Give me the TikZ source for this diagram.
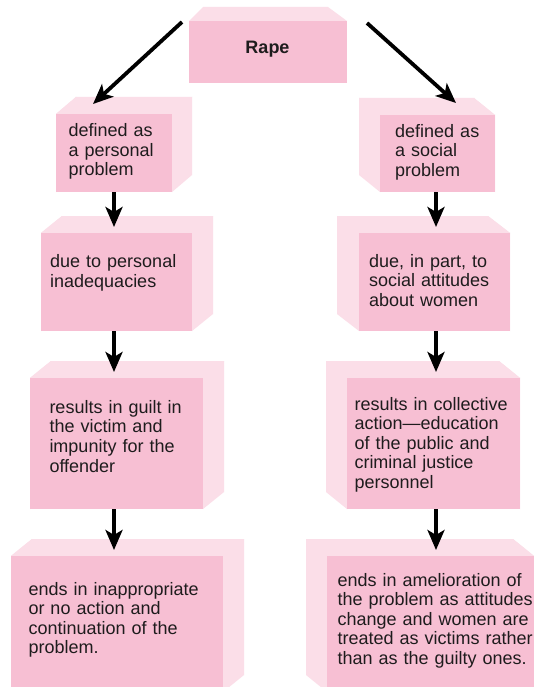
\documentclass[tikz,border=0pt]{standalone}
\usepackage{fontspec}
\setmainfont{Liberation Sans}
\usetikzlibrary{arrows.meta,calc,backgrounds}
\definecolor{frontpink}{RGB}{247,191,211}
\definecolor{sidepink}{RGB}{251,222,232}
\definecolor{txt}{RGB}{30,28,29}
\tikzset{
  frontface/.style={fill=frontpink, draw=none, inner sep=0pt, outer sep=0pt, anchor=north west},
  sideface/.style={fill=sidepink},
  arr/.style={line width=3.8pt, -{Stealth[length=20pt, width=17pt, inset=5pt]}, draw=black},
  tx/.style={anchor=base west, text width=220pt, align=left, inner sep=0pt,
             font=\fontsize{18}{19.6}\selectfont, text=txt},
}
\newcommand{\cubebox}[6]{%
  \node[frontface, minimum width=#4pt, minimum height=#5pt] (#1) at (#2,#3) {};
  \begin{scope}[on background layer]
    \fill[sideface] ($(#1.south west)+(#6,-17)$) rectangle ($(#1.north east)+(#6,-17)$);
    \fill[sideface] (#1.north west) -- ++(#6,-17) -- ($(#1.north east)+(#6,-17)$) -- (#1.north east) -- cycle;
    \fill[sideface] (#1.north west) -- ++(#6,-17) -- ($(#1.south west)+(#6,-17)$) -- (#1.south west) -- cycle;
    \fill[sideface] (#1.north east) -- ++(#6,-17) -- ($(#1.south east)+(#6,-17)$) -- (#1.south east) -- cycle;
  \end{scope}}
\begin{document}
\begin{tikzpicture}[x=1pt,y=-1pt]
\useasboundingbox (0,0) rectangle (533,687);
\begin{scope}[on background layer]
  \fill[white] (0,0) rectangle (533,687);
\end{scope}

% title box
\node[frontface, minimum width=158pt, minimum height=62pt] (rape) at (189,21) {};
\begin{scope}[on background layer]
  \fill[sideface] (rape.north west) -- ++(14,-14) -- ($(rape.north east)+(-19,-14)$) -- (rape.north east) -- cycle;
\end{scope}
\node[anchor=base, inner sep=0pt, font=\bfseries\fontsize{18}{20}\selectfont, text=txt] (rapet) at (267.5,53.3) {Rape};

% left column
\cubebox{l1}{56}{114}{116}{78}{20}
\cubebox{l2}{41}{233}{151}{98}{21}
\cubebox{l3}{30}{378}{173}{131}{21}
\cubebox{l4}{11}{556}{212}{136}{21}

% right column
\cubebox{r1}{380}{115}{115}{77}{-21}
\cubebox{r2}{359}{233}{151}{98}{-22}
\cubebox{r3}{347}{378}{173}{131}{-21}
\cubebox{r4}{327}{556}{207}{136}{-21}

% texts
\node[tx] (l1t) at (68.3,136.7) {defined as\\a personal\\problem};
\node[tx] (l2t) at (50,267.7) {due to personal\\inadequacies};
\node[tx] (l3t) at (49.3,413.3) {results in guilt in\\the victim and\\impunity for the\\offender};
\node[tx] (l4t) at (28.3,595) {ends in inappropriate\\or no action and\\continuation of the\\problem.};
\node[tx] (r1t) at (395,137.3) {defined as\\a social\\problem};
\node[tx] (r2t) at (369,267.3) {due, in part, to\\social attitudes\\about women};
\node[tx] (r3t) at (354.3,410) {results in collective\\action—education\\of the public and\\criminal justice\\personnel};
\node[tx] (r4t) at (337.3,586) {ends in amelioration of\\the problem as attitudes\\change and women are\\treated as victims rather\\than as the guilty ones.};

% arrows
\draw[arr] ($(rape.north west)+(-7,1)$) -- ($(l1.north west)+(37,-10)$);
\draw[arr] ($(rape.north east)+(20,2)$) -- ($(r1.north west)+(76,-12)$);

\draw[arr] (l1.south) -- ($(l1.south |- l2.north)+(0,-6)$);
\draw[arr] (l1.south |- l2.south) -- ($(l1.south |- l3.north)+(0,-6)$);
\draw[arr] (l1.south |- l3.south) -- ($(l1.south |- l4.north)+(0,-6)$);

\coordinate (rx) at ($(r1.south)+(-1.5,0)$);
\draw[arr] (rx) -- ($(rx |- r2.north)+(0,-6)$);
\draw[arr] (rx |- r2.south) -- ($(rx |- r3.north)+(0,-6)$);
\draw[arr] (rx |- r3.south) -- ($(rx |- r4.north)+(0,-6)$);
\end{tikzpicture}
\end{document}
